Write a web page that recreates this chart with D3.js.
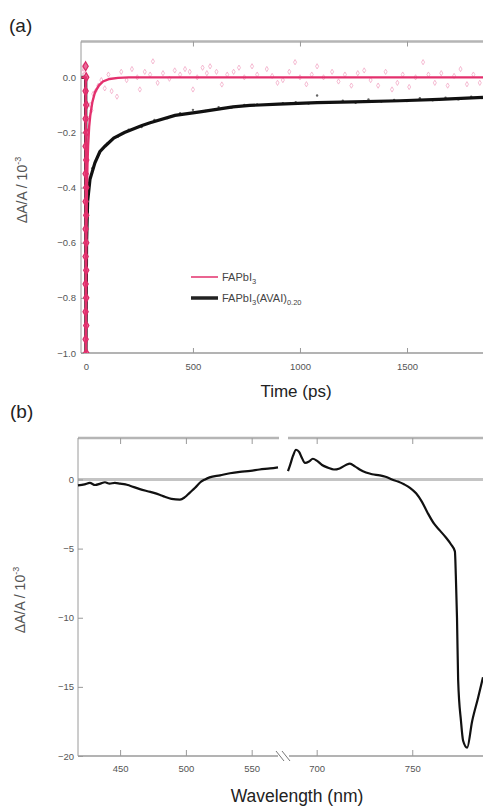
<!DOCTYPE html>
<html lang="en">
<head>
  <meta charset="UTF-8">
  <title>Transient absorption</title>
  <style>
    body { margin: 0; background: #fff; font-family: 'Liberation Sans', Arial, sans-serif; }
    svg { display: block; }
    .tick text { font-size: 9.5px; fill: #555; }
  </style>
</head>
<body>
  <svg id="chart" width="483" height="807"></svg>

  <script src="https://d3js.org/d3.v7.min.js"></script>
  <script>
    // (a) kinetics, time in ps, dA/A in 10^-3
    const pinkFitT = [-23, -1, 0, 2, 4, 7, 10, 15, 20, 30, 42, 60, 80, 110, 150, 200, 1855];
    const pinkFitV = [0, 0, -1.05, -0.62, -0.45, -0.32, -0.25, -0.18, -0.14, -0.09, -0.055, -0.03, -0.015, -0.006, -0.002, 0, 0];
    const blackFitT = [-23, -1, 0, 3, 8, 19, 42, 65, 89, 130, 180, 262, 300, 416, 533, 687, 766, 900, 1080, 1250, 1467, 1650, 1855];
    const blackFitV = [0, 0, -1.0, -0.6, -0.45, -0.37, -0.31, -0.27, -0.25, -0.22, -0.2, -0.175, -0.165, -0.138, -0.125, -0.107, -0.102, -0.097, -0.092, -0.089, -0.085, -0.08, -0.073];

    // raw pink points near time zero (dense column) and along the tail
    const pinkZeroT = [-1.5, 1.5, -1.5, 1.5, -1.5, 1.5, -1.5, 1.5, -1.5, 1.5, -1.5, 1.5, -1.5, 1.5, -1.5, 1.5, -1.5, 1.5, -1.5, 1.5, -1.5, 1.5];
    const pinkZeroV = [0.04, 0.0, -0.05, -0.1, -0.15, -0.2, -0.25, -0.3, -0.35, -0.4, -0.45, -0.5, -0.55, -0.6, -0.65, -0.7, -0.75, -0.8, -0.85, -0.9, -0.95, -1.0];
    const pinkPtsT = [-20, -15, -10, -5, 6, 10, 14, 20, 26, 34, 45, 58, 72, 88, 105, 120, 145, 165, 190, 215, 240, 252, 275, 300, 313, 335, 360, 390, 415, 440, 463, 485, 500, 520, 545, 565, 580, 610, 635, 660, 690, 715, 740, 776, 800, 845, 870, 895, 920, 950, 977, 1000, 1030, 1055, 1080, 1110, 1150, 1180, 1210, 1240, 1270, 1300, 1330, 1365, 1400, 1430, 1455, 1480, 1510, 1540, 1575, 1600, 1630, 1660, 1690, 1720, 1750, 1780, 1810, 1840];
    const pinkPtsV = [0.03, 0.02, 0.04, 0.01, -0.3, -0.2, -0.15, -0.1, -0.12, -0.06, -0.05, -0.03, -0.01, -0.04, 0.01, -0.05, -0.07, 0.02, -0.01, 0.03, 0.0, -0.044, 0.02, 0.01, 0.058, -0.02, 0.015, -0.005, 0.025, 0.01, 0.03, 0.02, -0.044, 0.0, 0.035, 0.015, 0.04, 0.02, -0.026, 0.01, 0.02, 0.035, 0.0, 0.04, 0.01, 0.03, 0.005, -0.02, -0.01, 0.02, 0.055, 0.0, -0.025, 0.01, 0.04, 0.0, 0.02, -0.015, 0.01, -0.03, 0.015, 0.025, -0.01, -0.03, 0.02, -0.044, -0.02, 0.01, -0.035, 0.0, 0.055, 0.01, -0.02, 0.015, -0.03, 0.005, 0.03, -0.025, 0.01, -0.02];

    const blackPtsT = [30, 60, 100, 150, 200, 260, 320, 380, 440, 500, 560, 620, 680, 740, 800, 860, 920, 980, 1040, 1080, 1140, 1200, 1260, 1320, 1380, 1440, 1500, 1560, 1620, 1680, 1740, 1800, 1850];
    const blackPtsV = [-0.33, -0.28, -0.24, -0.215, -0.19, -0.18, -0.155, -0.148, -0.13, -0.118, -0.122, -0.108, -0.11, -0.1, -0.098, -0.1, -0.094, -0.09, -0.095, -0.066, -0.09, -0.085, -0.092, -0.08, -0.088, -0.082, -0.086, -0.076, -0.083, -0.074, -0.08, -0.07, -0.075];

    const timeTicks = [0, 500, 1000, 1500];
    const dAaTicks = [0.0, -0.2, -0.4, -0.6, -0.8, -1.0];

    // (b) spectrum, broken wavelength axis
    const specLeftWl = [418, 423, 427, 431, 435, 438.5, 442, 446, 450, 454, 457.5, 465, 473, 480, 484, 489, 495.5, 499, 503, 507, 511, 514.5, 518, 526, 533.5, 541, 549, 556, 564, 570];
    const specLeftV = [-0.43, -0.35, -0.25, -0.4, -0.3, -0.2, -0.3, -0.25, -0.3, -0.35, -0.45, -0.7, -0.9, -1.1, -1.25, -1.4, -1.45, -1.3, -0.95, -0.6, -0.2, 0.0, 0.15, 0.3, 0.45, 0.55, 0.62, 0.72, 0.8, 0.88];
    const specRightWl = [685, 686, 687.6, 689.2, 690.8, 692.3, 693.9, 696, 698, 700.2, 702.8, 706, 709, 712, 715.3, 717.4, 720, 722.7, 725.8, 729, 733, 736, 739.4, 742.5, 745.7, 748.8, 752, 755, 758, 761.4, 764.5, 767.6, 770.3, 772.3, 772.8, 773.4, 774, 775.5, 776.6, 778.7, 781.3, 784.4, 787];
    const specRightV = [0.6, 1.0, 1.7, 2.15, 2.0, 1.55, 1.2, 1.3, 1.5, 1.35, 1.05, 0.85, 0.72, 0.8, 1.05, 1.15, 0.95, 0.7, 0.5, 0.38, 0.3, 0.2, 0.0, -0.15, -0.35, -0.6, -1.0, -1.6, -2.4, -3.2, -3.7, -4.2, -4.7, -5.2, -7.0, -10.0, -14.5, -17.5, -18.9, -19.4, -17.5, -15.8, -14.3];

    const wlTicksLeft = [450, 500, 550];
    const wlTicksRight = [700, 750];
    const specTicks = [0, -5, -10, -15, -20];

    const svg = d3.select('#chart');
    const grey = '#9a9a9a';
    const pink = '#e3306d';

    // ---------- panel (a) ----------
    const xa = d3.scaleLinear().domain([-23, 1855]).range([81, 483]);
    const ya = d3.scaleLinear().domain([-1.0, 0.13]).range([353, 41.5]);

    svg.append('clipPath').attr('id', 'clipA').append('rect')
      .attr('x', 81.5).attr('y', 41.5).attr('width', 402).attr('height', 311.5);

    const ga = svg.append('g');

    // frame
    ga.append('line').attr('x1', 81).attr('x2', 483).attr('y1', 41.5).attr('y2', 41.5)
      .attr('stroke', '#b5b5b5').attr('stroke-width', 2.5);
    ga.append('line').attr('x1', 81).attr('x2', 483).attr('y1', 353).attr('y2', 353)
      .attr('stroke', grey).attr('stroke-width', 1.5);
    ga.append('line').attr('x1', 81).attr('x2', 81).attr('y1', 41.5).attr('y2', 353)
      .attr('stroke', grey).attr('stroke-width', 1);

    const axBottomA = ga.append('g').attr('transform', 'translate(0,353)')
      .call(d3.axisBottom(xa).tickValues(timeTicks).tickSize(-5).tickPadding(10).tickFormat(d3.format('d')));
    const axTopA = ga.append('g').attr('transform', 'translate(0,41.5)')
      .call(d3.axisTop(xa).tickValues(timeTicks.slice(1)).tickSize(-5).tickFormat(''));
    const axLeftA = ga.append('g').attr('transform', 'translate(81,0)')
      .call(d3.axisLeft(ya).tickValues(dAaTicks).tickSize(-3).tickPadding(5).tickFormat(d3.format('.1f')));
    [axBottomA, axTopA, axLeftA].forEach(a => {
      a.select('.domain').remove();
      a.selectAll('.tick line').attr('stroke', grey);
    });

    const plotA = ga.append('g').attr('clip-path', 'url(#clipA)');

    const lineA = d3.line().x(d => xa(d[0])).y(d => ya(d[1]));

    plotA.selectAll('path.pp').data(d3.zip(pinkPtsT, pinkPtsV)).join('path')
      .attr('class', 'pp')
      .attr('transform', d => `translate(${xa(d[0])},${ya(d[1])})`)
      .attr('d', d3.symbol(d3.symbolDiamond, 8))
      .attr('fill', 'none').attr('stroke', '#f3a9c6').attr('stroke-width', 0.8);

    plotA.selectAll('circle.bp').data(d3.zip(blackPtsT, blackPtsV)).join('circle')
      .attr('class', 'bp')
      .attr('cx', d => xa(d[0])).attr('cy', d => ya(d[1])).attr('r', 1.2)
      .attr('fill', '#666');

    plotA.append('path').datum(d3.zip(blackFitT, blackFitV))
      .attr('d', lineA).attr('fill', 'none').attr('stroke', '#111').attr('stroke-width', 3.2);

    plotA.selectAll('path.pz').data(d3.zip(pinkZeroT, pinkZeroV)).join('path')
      .attr('class', 'pz')
      .attr('transform', d => `translate(${xa(d[0])},${ya(d[1])})`)
      .attr('d', d3.symbol(d3.symbolDiamond, 24))
      .attr('fill', '#ea6a9a').attr('stroke', '#d92a66').attr('stroke-width', 1.2);

    plotA.append('path').datum(d3.zip(pinkFitT, pinkFitV))
      .attr('d', lineA).attr('fill', 'none').attr('stroke', pink).attr('stroke-width', 2.4);

    // legend
    const leg = ga.append('g');
    leg.append('line').attr('x1', 191).attr('x2', 218).attr('y1', 277).attr('y2', 277)
      .attr('stroke', pink).attr('stroke-width', 1.5);
    leg.append('line').attr('x1', 191).attr('x2', 218).attr('y1', 298).attr('y2', 298)
      .attr('stroke', '#222').attr('stroke-width', 3.5);
    const lt1 = leg.append('text').attr('x', 222).attr('y', 281).attr('font-size', 11).attr('fill', '#444');
    lt1.append('tspan').text('FAPbI');
    lt1.append('tspan').attr('font-size', 7.5).attr('dy', 3).text('3');
    const lt2 = leg.append('text').attr('x', 222).attr('y', 302).attr('font-size', 11).attr('fill', '#444');
    lt2.append('tspan').text('FAPbI');
    lt2.append('tspan').attr('font-size', 7.5).attr('dy', 3).text('3');
    lt2.append('tspan').attr('dy', -3).text('(AVAI)');
    lt2.append('tspan').attr('font-size', 7.5).attr('dy', 3).text('0.20');

    svg.append('text').attr('x', 9).attr('y', 32).attr('font-size', 19).attr('fill', '#222').text('(a)');
    svg.append('text').attr('x', 296).attr('y', 397).attr('text-anchor', 'middle')
      .attr('font-size', 17).attr('fill', '#222').text('Time (ps)');
    const yla = svg.append('text').attr('transform', 'translate(27,190) rotate(-90)')
      .attr('text-anchor', 'middle').attr('font-size', 14).attr('fill', '#555');
    yla.append('tspan').text('ΔA/A / 10');
    yla.append('tspan').attr('font-size', 9).attr('dy', -6).text('-3');

    // ---------- panel (b) ----------
    const yb = d3.scaleLinear().domain([-20, 3]).range([756, 438]);
    const xbL = d3.scaleLinear().domain([418, 570]).range([78, 278]);
    const xbR = d3.scaleLinear().domain([685, 787]).range([288, 483]);

    const gb = svg.append('g');

    // zero line
    gb.append('line').attr('x1', 78).attr('x2', 483).attr('y1', yb(0)).attr('y2', yb(0))
      .attr('stroke', '#c4c4c4').attr('stroke-width', 3);

    // frame with break
    gb.append('line').attr('x1', 78).attr('x2', 279).attr('y1', 438).attr('y2', 438)
      .attr('stroke', '#b5b5b5').attr('stroke-width', 2.5);
    gb.append('line').attr('x1', 288).attr('x2', 483).attr('y1', 438).attr('y2', 438)
      .attr('stroke', '#b5b5b5').attr('stroke-width', 2.5);
    gb.append('line').attr('x1', 78).attr('x2', 278).attr('y1', 756).attr('y2', 756)
      .attr('stroke', grey).attr('stroke-width', 1.5);
    gb.append('line').attr('x1', 289).attr('x2', 483).attr('y1', 756).attr('y2', 756)
      .attr('stroke', grey).attr('stroke-width', 1.5);
    gb.append('line').attr('x1', 78).attr('x2', 78).attr('y1', 438).attr('y2', 756)
      .attr('stroke', grey).attr('stroke-width', 1);
    [[276, 284], [282, 290]].forEach(([a, b]) => {
      gb.append('line').attr('x1', a).attr('x2', b).attr('y1', 751).attr('y2', 761)
        .attr('stroke', '#777').attr('stroke-width', 1);
    });

    const axes = [
      gb.append('g').attr('transform', 'translate(0,756)')
        .call(d3.axisBottom(xbL).tickValues(wlTicksLeft).tickSize(-6).tickPadding(9)),
      gb.append('g').attr('transform', 'translate(0,756)')
        .call(d3.axisBottom(xbR).tickValues(wlTicksRight).tickSize(-6).tickPadding(9)),
      gb.append('g').attr('transform', 'translate(0,438)')
        .call(d3.axisTop(xbL).tickValues(wlTicksLeft).tickSize(-6).tickFormat('')),
      gb.append('g').attr('transform', 'translate(0,438)')
        .call(d3.axisTop(xbR).tickValues(wlTicksRight).tickSize(-6).tickFormat('')),
      gb.append('g').attr('transform', 'translate(78,0)')
        .call(d3.axisLeft(yb).tickValues(specTicks).tickSize(-5).tickPadding(4))
    ];
    axes.forEach(a => {
      a.select('.domain').remove();
      a.selectAll('.tick line').attr('stroke', grey);
    });

    gb.append('path').datum(d3.zip(specLeftWl, specLeftV))
      .attr('d', d3.line().x(d => xbL(d[0])).y(d => yb(d[1])).curve(d3.curveMonotoneX))
      .attr('fill', 'none').attr('stroke', '#111').attr('stroke-width', 2.2);
    gb.append('path').datum(d3.zip(specRightWl, specRightV))
      .attr('d', d3.line().x(d => xbR(d[0])).y(d => yb(d[1])).curve(d3.curveMonotoneX))
      .attr('fill', 'none').attr('stroke', '#111').attr('stroke-width', 2.2);

    svg.append('text').attr('x', 10).attr('y', 418).attr('font-size', 19).attr('fill', '#222').text('(b)');
    svg.append('text').attr('x', 297).attr('y', 802).attr('text-anchor', 'middle')
      .attr('font-size', 17.5).attr('fill', '#222').text('Wavelength (nm)');
    const ylb = svg.append('text').attr('transform', 'translate(25,600) rotate(-90)')
      .attr('text-anchor', 'middle').attr('font-size', 14).attr('fill', '#555');
    ylb.append('tspan').text('ΔA/A / 10');
    ylb.append('tspan').attr('font-size', 9).attr('dy', -6).text('-3');
  </script>
</body>
</html>
